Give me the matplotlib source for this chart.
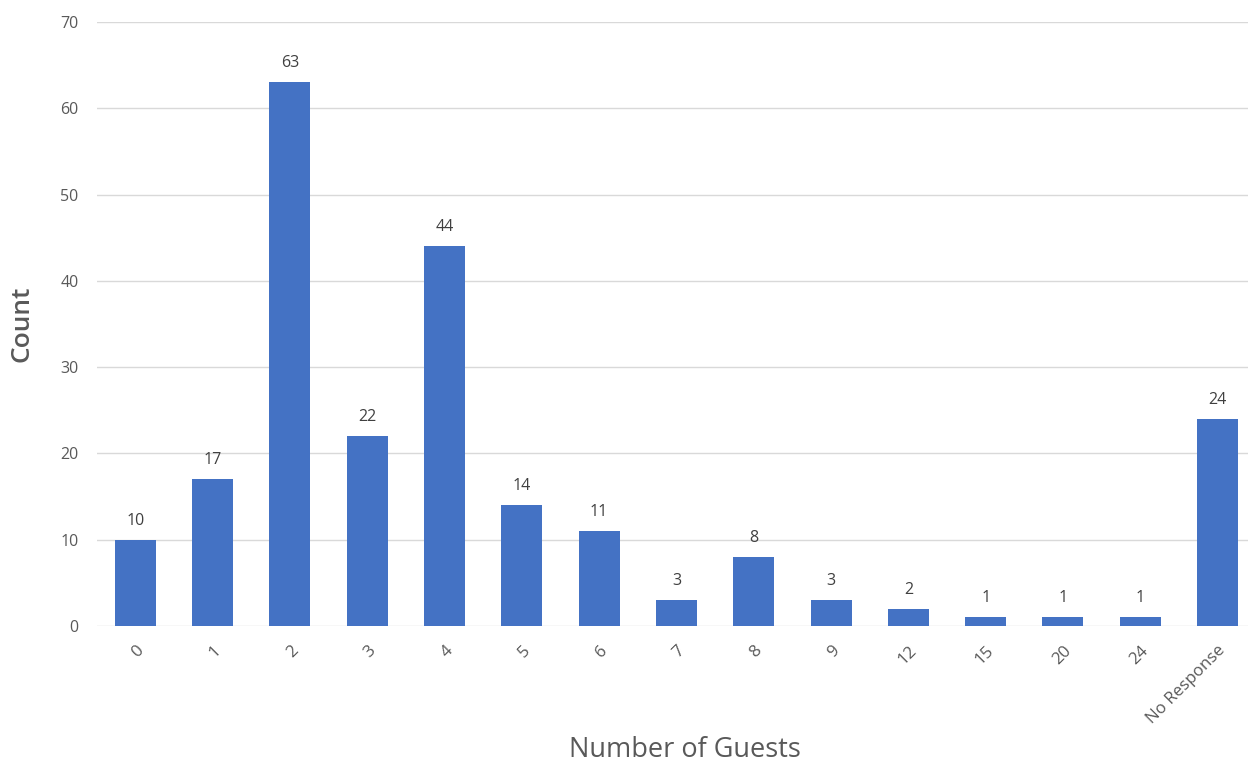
import matplotlib
matplotlib.use("Agg")
import matplotlib.pyplot as plt

categories = ["0", "1", "2", "3", "4", "5", "6", "7", "8", "9", "12", "15", "20", "24", "No Response"]
counts = [10, 17, 63, 22, 44, 14, 11, 3, 8, 3, 2, 1, 1, 1, 24]

plt.rcParams['font.family'] = ['Open Sans', 'DejaVu Sans']

fig = plt.figure(figsize=(12.48, 7.65), dpi=100)
left_px, right_px = 96.7, 1248
ax = fig.add_axes([left_px / 1248, 1 - 626 / 765, (right_px - left_px) / 1248, (626 - 22) / 765])

x = list(range(len(categories)))
bars = ax.bar(x, counts, width=0.53, color="#4472C4", zorder=3)

spacing = 77.3
ax.set_xlim(-0.5, -0.5 + (right_px - left_px) / spacing)
ax.set_ylim(0, 70)
ax.set_yticks(range(0, 71, 10))
ax.grid(axis='y', color='#d9d9d9', linewidth=1, zorder=0)
for s in ax.spines.values():
    s.set_visible(False)
ax.tick_params(axis='both', length=0, labelsize=11.5, colors='#595959')
ax.tick_params(axis='x', labelsize=12.2)
ax.tick_params(axis='y', pad=13)
ax.set_xticks(x)
ax.set_xticklabels(categories, rotation=45, ha='right', rotation_mode='anchor')
ax.tick_params(axis='x', pad=12)

for xi, v in zip(x, counts):
    ax.annotate(str(v), (xi, v), xytext=(0, 8), textcoords='offset points',
                ha='center', va='bottom', fontsize=11.5, color='#404040')

ax.set_ylabel("Count", fontsize=19, color='#595959', fontweight='semibold')
ax.yaxis.set_label_coords((22 - left_px) / (right_px - left_px), 0.5)
ax.set_xlabel("Number of Guests", fontsize=19.5, color='#595959')
ax.xaxis.set_label_coords((685 - left_px) / (right_px - left_px), -(750 - 626) / 604)
ax.xaxis.label.set_va('center')
ax.yaxis.label.set_va('center')

fig.savefig("out.png", dpi=100)
